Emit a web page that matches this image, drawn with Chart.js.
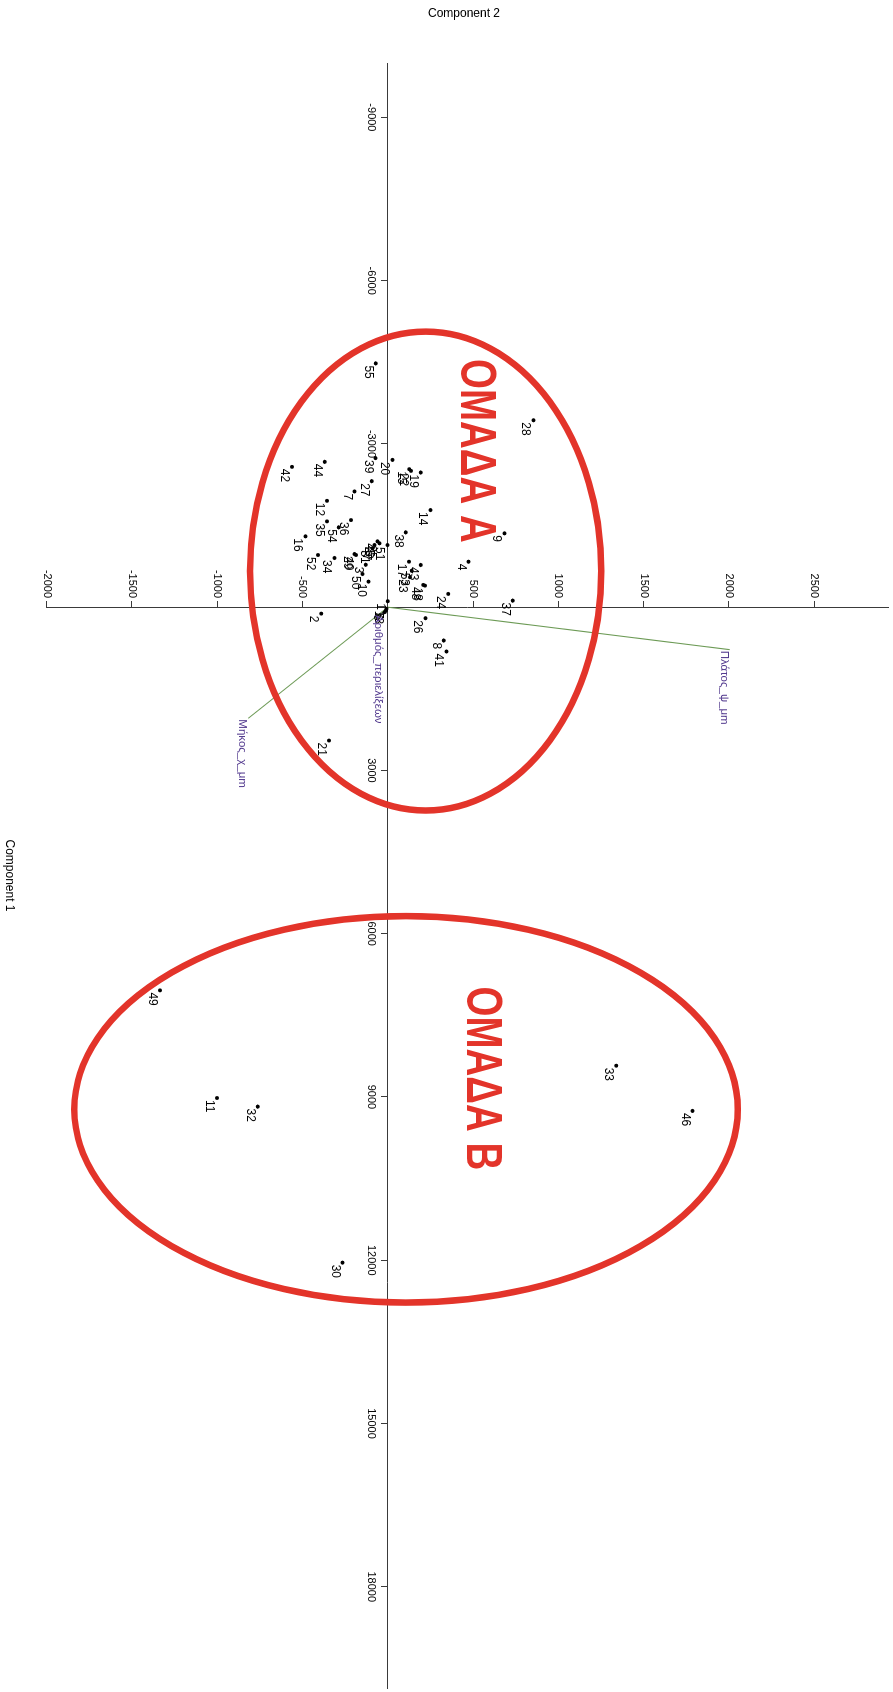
<!DOCTYPE html>
<html>
<head>
<meta charset="utf-8">
<script src="https://cdn.jsdelivr.net/npm/chart.js@4.4.1/dist/chart.umd.min.js"></script>
<style>
  html, body { margin: 0; padding: 0; background: #fff; overflow: hidden; width: 893px; height: 1692px; }
  /* the biplot is laid out landscape and turned a quarter clockwise onto the page */
  #wrap { position: absolute; left: 0; top: 0; width: 1692px; height: 893px;
          transform-origin: 0 0; transform: translate(893px, 0) rotate(90deg); }
  canvas { display: block; }
</style>
</head>
<body>
<div id="wrap"><canvas id="biplot" width="1692" height="893"></canvas></div>
<script>
// PCA scores of the samples
const sampleIds = ['1','2','3','4','5','6','7','8','9','10','11','12','13','14','15','16','17','18','19','20',
  '21','22','23','24','25','26','27','28','29','30','31','32','33','34','35','36','37','38','39','40',
  '41','42','43','44','45','46','47','48','49','50','51','52','53','54','55'];
const component1 = [-110, 118, -780, -836, 60, 90, -2127, 612, -1357, -470,
  9019, -1955, 30, -1785, -2536, -1302, -836, -396, -2475, -2707,
  2450, -2505, -550, -244, -1174, 202, -2316, -3435, -977, 12044,
  -1082, 9177, 8425, -904, -1577, -1601, -121, -1375, -2740, -959,
  814, -2579, -776, -2671, -1210, 9256, -1143, -409, 7041, -610,
  -1142, -959, -671, -1467, -4480];
const component2 = [0, -390, -129, 474, -10, -18, -195, 328, 684, -113,
  -1001, -356, -8, 250, 126, -483, 124, 218, 194, 27,
  -345, 136, 130, 354, -49, 221, -94, 854, -195, -265,
  -90, -762, 1340, -313, -356, -216, 733, 105, -72, -187,
  344, -561, 194, -370, -61, 1787, -78, 208, -1335, -148,
  -2, -409, 140, -288, -71];

// variable loadings (biplot vectors)
const loadingNames = ['Μήκος_χ_μm', 'Πλάτος_ψ_μm', 'Αριθμός_περιελίξεων'];
const loadingC1 = [2042, 780, 123];
const loadingC2 = [-818, 2005, -20];

// axis ticks
const component1Ticks = [-9000, -6000, -3000, 3000, 6000, 9000, 12000, 15000, 18000];
const component2Ticks = [-2000, -1500, -1000, -500, 500, 1000, 1500, 2000, 2500];

// sample groups: name, centre and half-extent along each component
const groupNames = ['ΟΜΑΔΑ Α', 'ΟΜΑΔΑ Β'];
const groupCentreC1 = [-664, 9227];
const groupCentreC2 = [222, 107];
const groupRadiusC1 = [4400, 3551];
const groupRadiusC2 = [1030, 1945];
const groupLabelC1 = [-4560, 6970];
const groupLabelC2 = [429, 463];

const FONT = '"Liberation Sans", Arial, Helvetica, sans-serif';
Chart.defaults.font.family = FONT;
Chart.defaults.font.size = 11;
Chart.defaults.color = '#000';

const AXIS = '#3a3a3a';
const VECTOR = '#6c9a55';
const VECTOR_TEXT = '#52398e';
const GROUP = '#e3342a';

function flattenFit(scale) {
  if (scale.isHorizontal()) scale.height = 0; else scale.width = 0;
  scale.paddingLeft = scale.paddingRight = scale.paddingTop = scale.paddingBottom = 0;
}

const annotations = {
  id: 'annotations',
  afterDatasetsDraw(chart) {
    const { ctx, scales: { x, y }, chartArea } = chart;
    ctx.save();

    // group ellipses
    ctx.strokeStyle = GROUP;
    ctx.lineWidth = 6.5;
    groupNames.forEach((name, i) => {
      const cx = x.getPixelForValue(groupCentreC1[i]);
      const cy = y.getPixelForValue(groupCentreC2[i]);
      const rx = Math.abs(x.getPixelForValue(groupCentreC1[i] + groupRadiusC1[i]) - cx);
      const ry = Math.abs(y.getPixelForValue(groupCentreC2[i] + groupRadiusC2[i]) - cy);
      ctx.beginPath();
      ctx.ellipse(cx, cy, rx, ry, 0, 0, Math.PI * 2);
      ctx.stroke();
    });

    // group names, set in a condensed heavy face
    ctx.fillStyle = GROUP;
    ctx.font = 'bold 50px ' + FONT;
    ctx.textAlign = 'left';
    ctx.textBaseline = 'alphabetic';
    groupNames.forEach((name, i) => {
      ctx.save();
      ctx.translate(x.getPixelForValue(groupLabelC1[i]), y.getPixelForValue(groupLabelC2[i]));
      ctx.scale(0.77, 1);
      ctx.fillText(name, 0, 0);
      ctx.restore();
    });

    // sample numbers
    ctx.fillStyle = '#000';
    ctx.font = '12px ' + FONT;
    const pts = chart.getDatasetMeta(0).data;
    pts.forEach((p, i) => ctx.fillText(sampleIds[i], p.x + 2, p.y + 11));

    // loading names at the tips of the vectors
    ctx.fillStyle = VECTOR_TEXT;
    ctx.font = '11.5px ' + FONT;
    loadingNames.forEach((name, i) => {
      const tip = chart.getDatasetMeta(i + 1).data[1];
      ctx.fillText(name, tip.x + 1, tip.y + 9);
    });

    // axis titles
    ctx.fillStyle = '#000';
    ctx.font = '12px ' + FONT;
    ctx.textAlign = 'center';
    ctx.textBaseline = 'middle';
    ctx.fillText('Component 1', (chartArea.left + chartArea.right) / 2, 884);
    ctx.translate(14, 429);
    ctx.rotate(-Math.PI / 2);
    ctx.fillText('Component 2', 0, 0);
    ctx.restore();
  }
};

const datasets = [{
  type: 'scatter',
  data: component1.map((v, i) => ({ x: v, y: component2[i] })),
  pointRadius: 2,
  pointBackgroundColor: '#000',
  pointBorderWidth: 0,
  order: 0
}];
loadingNames.forEach((name, i) => {
  datasets.push({
    type: 'line',
    data: [{ x: 0, y: 0 }, { x: loadingC1[i], y: loadingC2[i] }],
    borderColor: VECTOR,
    borderWidth: 1.1,
    pointRadius: 0,
    fill: false,
    order: 1
  });
});

new Chart(document.getElementById('biplot'), {
  type: 'scatter',
  data: { datasets },
  options: {
    responsive: false,
    animation: false,
    devicePixelRatio: 1,
    events: [],
    layout: { padding: { left: 63, right: 0, top: 0, bottom: 46.7 } },
    plugins: { legend: { display: false }, tooltip: { enabled: false } },
    scales: {
      x: {
        type: 'linear',
        position: { y: 0 },
        min: -10000,
        max: 19860,
        afterBuildTicks: s => { s.ticks = component1Ticks.map(v => ({ value: v })); },
        afterFit: flattenFit,
        border: { display: true, color: AXIS, width: 1 },
        grid: { display: true, drawOnChartArea: false, drawTicks: true, tickLength: 6, color: AXIS },
        ticks: { padding: 4, maxRotation: 0, autoSkip: false, callback: v => String(v) }
      },
      y: {
        type: 'linear',
        position: { x: 0 },
        min: -2000,
        max: 2939,
        afterBuildTicks: s => { s.ticks = component2Ticks.map(v => ({ value: v })); },
        afterFit: flattenFit,
        border: { display: true, color: AXIS, width: 1 },
        grid: { display: true, drawOnChartArea: false, drawTicks: true, tickLength: 6, color: AXIS },
        ticks: { autoSkip: false, callback: v => String(v) + '   ' }
      }
    }
  },
  plugins: [annotations]
});
</script>
</body>
</html>
